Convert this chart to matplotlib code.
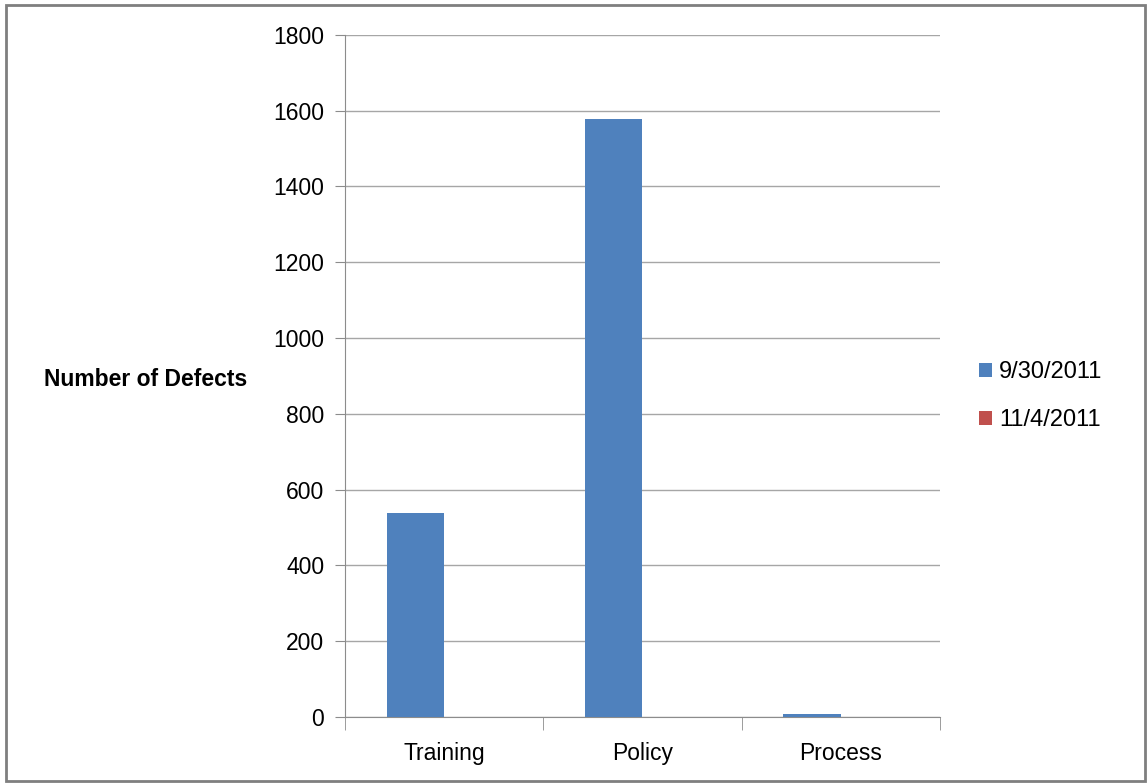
import matplotlib.pyplot as plt
import numpy as np
from matplotlib.patches import Rectangle

# defect counts per category
categories = ["Training", "Policy", "Process"]
sep_2011 = [538, 1578, 8]     # 9/30/2011
nov_2011 = [0, 0, 0]          # 11/4/2011
series_names = ["9/30/2011", "11/4/2011"]

plt.rcParams['font.family'] = ['Liberation Sans', 'DejaVu Sans']

fig = plt.figure(figsize=(11.48, 7.84), dpi=100)
ax = fig.add_axes([0.3005, 0.0855, 0.5183, 0.87])

x = np.arange(len(categories))
w = 0.29
ax.bar(x - w / 2, sep_2011, w, color='#4f81bd', label=series_names[0], zorder=3)
ax.bar(x + w / 2, nov_2011, w, color='#c0504d', label=series_names[1], zorder=3)

ax.set_xlim(-0.5, len(categories) - 0.5)
ax.set_ylim(0, 1800)
ax.set_yticks(range(0, 1801, 200))
ax.yaxis.grid(True, color='#a6a6a6', linewidth=1.0, zorder=0)

ax.set_xticks(x)
ax.set_xticklabels(categories, fontsize=16.5)
ax.set_xticks(np.arange(-0.5, len(categories), 1.0), minor=True)
ax.tick_params(axis='x', which='major', length=0, pad=18)
ax.tick_params(axis='x', which='minor', length=9, color='#8c8c8c', direction='out')
ax.tick_params(axis='y', length=7, color='#8c8c8c', labelsize=16.5, pad=8)

for s in ['top', 'right']:
    ax.spines[s].set_visible(False)
for s in ['left', 'bottom']:
    ax.spines[s].set_color('#8c8c8c')

fig.text(0.038, 0.516, "Number of Defects", fontsize=16.5, fontweight='bold',
         ha='left', va='center')

leg = ax.legend(loc='center left', bbox_to_anchor=(1.03, 0.47), frameon=False,
                fontsize=17, handlelength=0.55, handleheight=0.55, handletextpad=0.3,
                labelspacing=1.1)

fig.patches.append(Rectangle((0.005, 0.004), 0.992, 0.99, transform=fig.transFigure,
                             fill=False, edgecolor='#7f7f7f', linewidth=2))

fig.savefig("out.png", dpi=100)
